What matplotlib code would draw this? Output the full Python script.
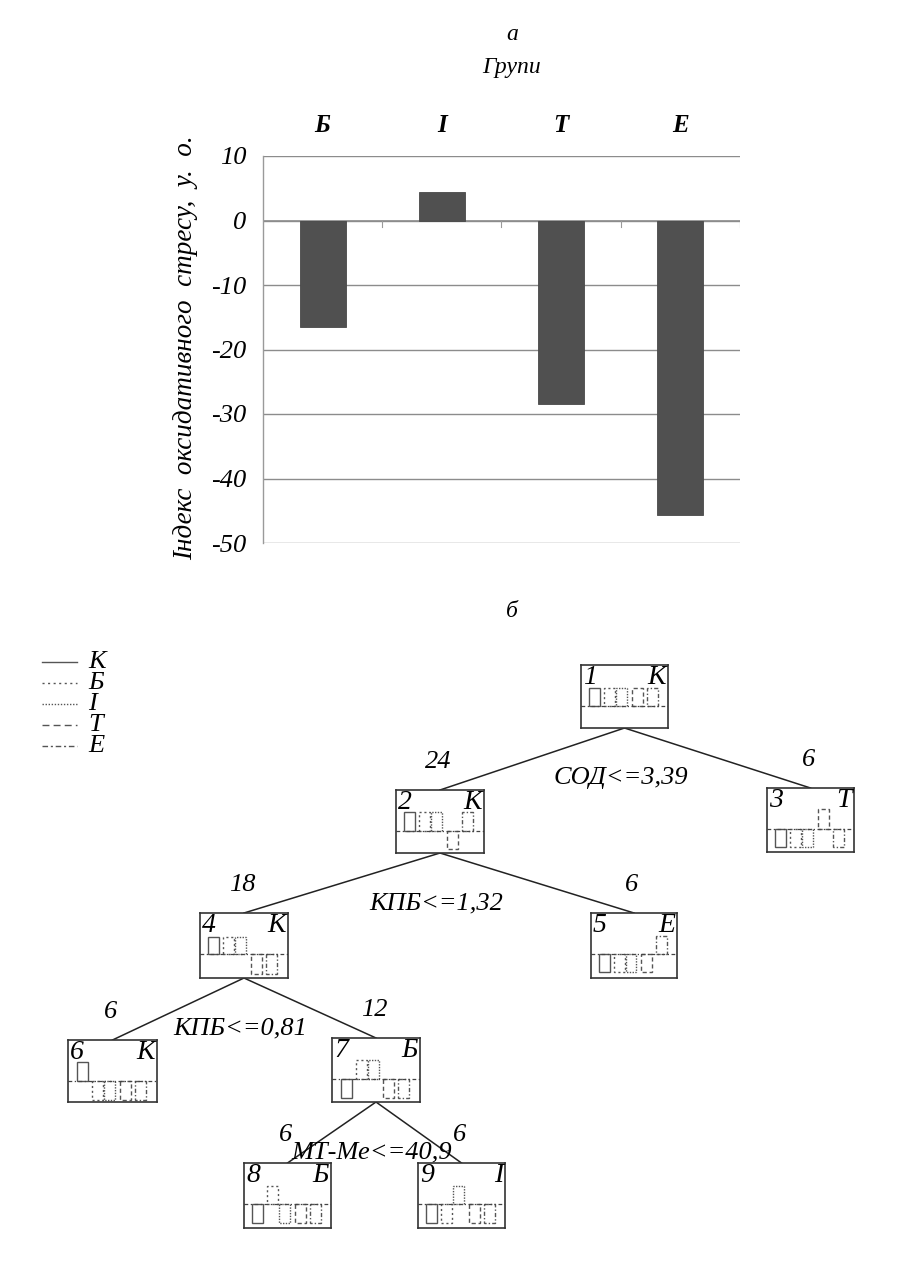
import matplotlib
matplotlib.use("Agg")
import matplotlib.pyplot as plt
import numpy as np

plt.rcParams['font.family'] = ['Liberation Serif', 'DejaVu Serif']

# ---------------- data ----------------
groups = ['Б', 'І', 'Т', 'Е']
stress_index = [-16.5, 4.4, -28.4, -45.7]
y_ticks = [10, 0, -10, -20, -30, -40, -50]

classes = ['К', 'Б', 'І', 'Т', 'Е']
node_ids = [1, 2, 3, 4, 5, 6, 7, 8, 9]
node_class = ['К', 'К', 'Т', 'К', 'Е', 'К', 'Б', 'Б', 'І']
node1_bars = [18, 18, 18, 18, 18]
node2_bars = [19, 19, 19, -18, 19]
node3_bars = [-18, -18, -18, 20, -18]
node4_bars = [17, 17, 17, -20, -20]
node5_bars = [-18, -18, -18, -18, 18]
node6_bars = [19, -19, -19, -19, -19]
node7_bars = [-19, 19, 19, -19, -19]
node8_bars = [-19, 18, -19, -19, -19]
node9_bars = [-19, -19, 18, -19, -19]
node_bars = [node1_bars, node2_bars, node3_bars, node4_bars, node5_bars,
             node6_bars, node7_bars, node8_bars, node9_bars]
# splits: (parent, left child, right child, rule, left n, right n)
splits = [(1, 2, 3, 'СОД<=3,39', 24, 6),
          (2, 4, 5, 'КПБ<=1,32', 18, 6),
          (4, 6, 7, 'КПБ<=0,81', 6, 12),
          (7, 8, 9, 'МТ-Ме<=40,9', 6, 6)]

# ---------------- layout / style ----------------
W, H = 912, 1271
fig = plt.figure(figsize=(W / 100, H / 100), dpi=100)
fig.patch.set_facecolor('white')

def fx(x):
    return x / W

def fy(y):
    return 1 - y / H

# ---- panel a ----
ax = fig.add_axes([fx(263), fy(543), (740 - 263) / W, (543 - 156) / H])
xpos = np.arange(len(groups))
ax.bar(xpos, stress_index, width=0.386, color='#505050', edgecolor='#484848',
       linewidth=0.6, zorder=3)
ax.set_xlim(-0.5, len(groups) - 0.5)
ax.set_ylim(-50, 10)
ax.set_yticks(y_ticks)
ax.set_yticklabels([str(t) for t in y_ticks], fontsize=19, style='italic')
ax.tick_params(axis='y', length=0, pad=12)
ax.xaxis.tick_top()
ax.set_xticks(xpos)
ax.set_xticklabels(groups, fontsize=18, style='italic', fontweight='bold')
ax.tick_params(axis='x', length=0, pad=14)
for s in ['top', 'right', 'bottom']:
    ax.spines[s].set_visible(False)
ax.spines['left'].set_color('#9a9a9a')
ax.spines['left'].set_linewidth(1.0)
ax.grid(axis='y', color='#8c8c8c', linewidth=1.0, zorder=0)
ax.axhline(0, color='#8c8c8c', linewidth=1.2, zorder=2)
for b in np.arange(0.5, len(groups), 1.0):
    ax.plot([b, b], [0, -1.0], color='#9a9a9a', linewidth=0.8, zorder=2)

fig.text(fx(512), fy(35), 'а', fontsize=17, style='italic', ha='center', va='center')
fig.text(fx(512), fy(68), 'Групи', fontsize=17, style='italic', ha='center', va='center')
fig.text(fx(186), fy(348), 'Індекс  оксидативного  стресу,  у.  о.', fontsize=19.5,
         style='italic', rotation=90, ha='center', va='center')

# ---- panel b ----
fig.text(fx(512), fy(612), 'б', fontsize=17, style='italic', ha='center', va='center')

axt = fig.add_axes([0, 0, 1, 1])
axt.set_xlim(0, W)
axt.set_ylim(H, 0)
axt.axis('off')

# legend
leg_styles = ['-', (0, (1.5, 2.5)), (0, (1, 1.2)), (0, (5, 3)), (0, (4, 2, 1.5, 2))]
leg_y = [662, 683, 704, 725, 746]
for cls, ls, yy in zip(classes, leg_styles, leg_y):
    axt.plot([42, 77], [yy, yy], color='#555555', linestyle=ls, linewidth=1.0)
    axt.text(88, yy, cls, fontsize=19, style='italic', ha='left', va='center')

# node boxes (left, top, width, height) in pixels
boxes = {1: (581, 665, 87, 63), 2: (396, 790, 88, 63), 3: (767, 788, 87, 64),
         4: (200, 913, 88, 65), 5: (591, 913, 86, 65), 6: (68, 1040, 89, 62),
         7: (332, 1038, 88, 64), 8: (244, 1163, 87, 65), 9: (418, 1163, 87, 65)}
bar_x = [14, 29, 41, 57, 72]
bar_ls = ['-', (0, (1.5, 2)), (0, (1, 1)), (0, (3, 2)), (0, (3, 1.5, 1, 1.5))]

for nid, cls, vals in zip(node_ids, node_class, node_bars):
    l, t, w, h = boxes[nid]
    iax = fig.add_axes([fx(l), fy(t + h), w / W, h / H])
    iax.set_xlim(0, 88)
    below = h - 41
    iax.set_ylim(-below, 41)
    for xb, v, ls in zip(bar_x, vals, bar_ls):
        iax.bar(xb, v, width=11, bottom=0, fill=False, edgecolor='#555555',
                linestyle=ls, linewidth=1.0)
    iax.axhline(0, color='#444444', linestyle=(0, (3, 2, 1, 2)), linewidth=0.9)
    iax.set_xticks([])
    iax.set_yticks([])
    for s in iax.spines.values():
        s.set_color('#333333')
        s.set_linewidth(1.2)
    iax.text(2, 41, str(nid), fontsize=20, style='italic', ha='left', va='top')
    iax.text(86, 41, cls, fontsize=20, style='italic', ha='right', va='top')

# edges and labels
for parent, lc, rc, rule, nl, nr in splits:
    pl, pt, pw, ph = boxes[parent]
    px, py = pl + pw / 2, pt + ph
    for child, n in ((lc, nl), (rc, nr)):
        cl, ct, cw, chh = boxes[child]
        cx, cy = cl + cw / 2, ct
        axt.plot([px, cx], [py, cy], color='#222222', linewidth=1.1)
        axt.text(cx - 2, cy - 28, str(n), fontsize=19, style='italic',
                 ha='center', va='center')
    axt.text(px - 4, py + 50, rule, fontsize=19, style='italic',
             ha='center', va='center')

fig.savefig('out.png', dpi=100, facecolor='white')
